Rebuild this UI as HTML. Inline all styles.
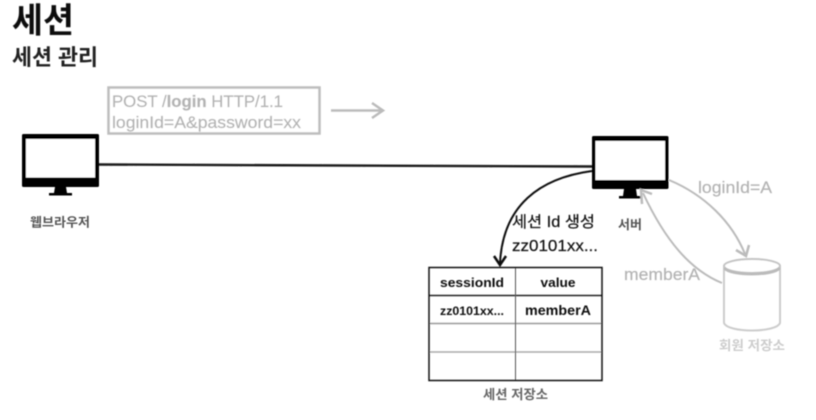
<!DOCTYPE html>
<html><head><meta charset="utf-8">
<style>
html,body{margin:0;padding:0;background:#fff;width:816px;height:420px;overflow:hidden}
svg{display:block}
text{font-family:"Liberation Sans","Noto Sans CJK KR",sans-serif}
</style></head><body>
<svg width="816" height="420" viewBox="0 0 816 420" xmlns="http://www.w3.org/2000/svg">
<defs><filter id="b" x="-5%" y="-5%" width="110%" height="110%"><feGaussianBlur stdDeviation="0.5"/></filter></defs>
<rect width="816" height="420" fill="#fff"/>
<g filter="url(#b)">
<text x="12" y="32.500" font-size="34.500" font-weight="700" fill="#111" textLength="62" lengthAdjust="spacingAndGlyphs">세션</text>
<text x="12" y="65" font-size="22" font-weight="700" fill="#222" textLength="86" lengthAdjust="spacingAndGlyphs">세션 관리</text>

<rect x="108.500" y="87.500" width="211" height="46" fill="#fff" stroke="#bdbdbd" stroke-width="2.500"/>
<text x="112" y="107" font-size="16.500" fill="#b4b4b4" stroke="#b4b4b4" stroke-width="0.200" textLength="171" lengthAdjust="spacingAndGlyphs">POST /<tspan font-weight="700">login</tspan> HTTP/1.1</text>
<text x="112" y="128" font-size="17" fill="#b4b4b4" stroke="#b4b4b4" stroke-width="0.200" textLength="189" lengthAdjust="spacingAndGlyphs">loginId=A&amp;password=xx</text>
<path d="M331 110.500H381M372 103L383 110.500L372 118" fill="none" stroke="#bbb" stroke-width="2.500"/>

<rect x="22" y="134" width="77" height="53" rx="1.500" fill="#000"/>
<rect x="26" y="139" width="69" height="38.500" fill="#fff"/>
<path d="M55 187H66L67 193H72V195.500H49V193H54Z" fill="#000"/>

<path d="M99 164.500L592 166.500" stroke="#1a1a1a" stroke-width="2.400" fill="none"/>

<rect x="592" y="136" width="76.500" height="53" rx="1.500" fill="#000"/>
<rect x="595.500" y="141" width="69.500" height="39" fill="#fff"/>
<path d="M624 189H636L637 196H642V198.500H619V196H623Z" fill="#000"/>

<text x="30" y="226.500" font-size="12.500" font-weight="700" fill="#555" textLength="60" lengthAdjust="spacingAndGlyphs">웹브라우저</text>
<text x="618" y="229" font-size="12.500" font-weight="700" fill="#555" textLength="24" lengthAdjust="spacingAndGlyphs">서버</text>

<path d="M592 171C540 178 503 205 500 263" fill="none" stroke="#111" stroke-width="2"/>
<path d="M494 256L500 265L506 256" fill="none" stroke="#111" stroke-width="2.500"/>
<text x="512" y="227" font-size="15.500" fill="#111" stroke="#111" stroke-width="0.200" textLength="83" lengthAdjust="spacingAndGlyphs">세션 Id 생성</text>
<text x="512" y="251" font-size="16" fill="#111" stroke="#111" stroke-width="0.200" textLength="86" lengthAdjust="spacingAndGlyphs">zz0101xx...</text>

<g fill="none">
<path d="M429 295.500H602" stroke="#222" stroke-width="1.500"/>
<path d="M429 323.500H602" stroke="#999" stroke-width="1.500"/>
<path d="M429 352H602" stroke="#aaa" stroke-width="1.500"/>
<path d="M515.500 267V380" stroke="#555" stroke-width="1"/>
<rect x="429" y="267.500" width="173" height="113" stroke="#111" stroke-width="1.500"/>
</g>
<g font-size="13" font-weight="700" fill="#111" text-anchor="middle">
<text x="472" y="287" textLength="64" lengthAdjust="spacingAndGlyphs">sessionId</text>
<text x="558" y="287" textLength="35" lengthAdjust="spacingAndGlyphs">value</text>
<text x="472" y="315" font-size="12" textLength="64" lengthAdjust="spacingAndGlyphs">zz0101xx...</text>
<text x="558" y="315" font-size="14" textLength="66" lengthAdjust="spacingAndGlyphs">memberA</text>
</g>
<text x="483" y="399" font-size="13" font-weight="700" fill="#666" textLength="65" lengthAdjust="spacingAndGlyphs">세션 저장소</text>

<path d="M669 180C705 195 732 222 745 254" fill="none" stroke="#bbb" stroke-width="2"/>
<path d="M736 250L746 256L749 245" fill="none" stroke="#bbb" stroke-width="2.500"/>
<path d="M722 283C690 270 665 240 643 193" fill="none" stroke="#bbb" stroke-width="2"/>
<path d="M642 204L641 190L652 194" fill="none" stroke="#bbb" stroke-width="2.500"/>
<text x="698" y="193" font-size="16.500" fill="#b4b4b4" stroke="#b4b4b4" stroke-width="0.200" textLength="74" lengthAdjust="spacingAndGlyphs">loginId=A</text>
<text x="624" y="280" font-size="16.500" fill="#b4b4b4" stroke="#b4b4b4" stroke-width="0.200" textLength="76" lengthAdjust="spacingAndGlyphs">memberA</text>

<path d="M724 267V323C728 333 776 333 780 323V267" fill="#fff" stroke="#ccc" stroke-width="2"/>
<ellipse cx="752" cy="266" rx="28" ry="7" fill="#fff" stroke="#c4c4c4" stroke-width="2"/>
<path d="M724.500 268C730 276 774 276 779.500 268" fill="none" stroke="#bbb" stroke-width="3"/>
<text x="719" y="350" font-size="13" fill="#ccc" font-weight="700" textLength="66" lengthAdjust="spacingAndGlyphs">회원 저장소</text>
</g>
</svg>
</body></html>
